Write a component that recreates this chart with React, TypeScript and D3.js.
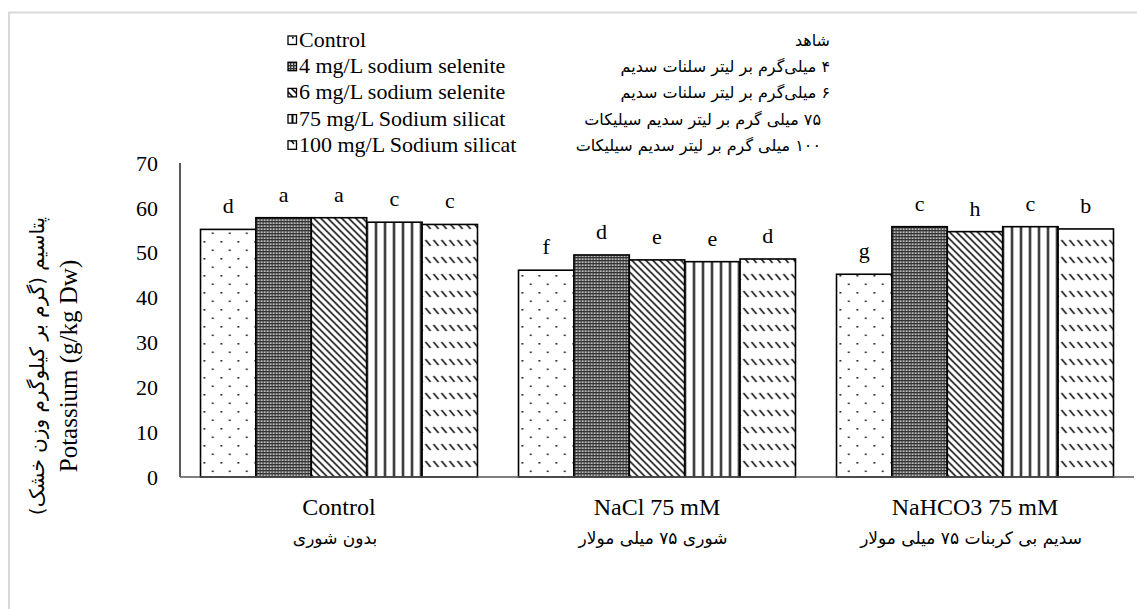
import React, { useEffect, useRef } from 'react'
import * as d3 from 'd3'

const categories = ['Control', 'NaCl 75 mM', 'NaHCO3 75 mM']
const categoriesFa = ['بدون شوری', 'شوری ۷۵ میلی مولار', 'سدیم بی کربنات ۷۵ میلی مولار']

const treatments = [
  'Control',
  '4 mg/L sodium selenite',
  '6 mg/L sodium selenite',
  '75 mg/L Sodium silicat',
  '100 mg/L Sodium silicat',
]
const treatmentsFa = [
  'شاهد',
  '۴ میلی‌گرم بر لیتر سلنات سدیم',
  '۶ میلی‌گرم بر لیتر سلنات سدیم',
  '۷۵ میلی گرم بر لیتر سدیم سیلیکات',
  '۱۰۰ میلی گرم بر لیتر سدیم سیلیکات',
]

// potassium per treatment, one value per category
const controlValues = [55.2, 46.1, 45.2]
const selenite4Values = [57.8, 49.5, 55.8]
const selenite6Values = [57.8, 48.4, 54.7]
const silicat75Values = [56.8, 48.0, 55.8]
const silicat100Values = [56.3, 48.6, 55.3]

const controlLetters = ['d', 'f', 'g']
const selenite4Letters = ['a', 'd', 'c']
const selenite6Letters = ['a', 'e', 'h']
const silicat75Letters = ['c', 'e', 'c']
const silicat100Letters = ['c', 'd', 'b']

const yTicks = [0, 10, 20, 30, 40, 50, 60, 70]

const seriesValues = [controlValues, selenite4Values, selenite6Values, silicat75Values, silicat100Values]
const seriesLetters = [controlLetters, selenite4Letters, selenite6Letters, silicat75Letters, silicat100Letters]
const patternIds = ['pDots', 'pChecker', 'pDiag', 'pVert', 'pDash']

const SERIF = '"Liberation Serif", "Times New Roman", serif'
const FA = '"DejaVu Sans", sans-serif'

export default function App() {
  const svgRef = useRef<SVGSVGElement>(null)

  useEffect(() => {
    if (!svgRef.current) return
    const svg = d3.select(svgRef.current)
    svg.selectAll('*').remove()

    const defs = svg.append('defs')

    // sparse dots
    const pd = defs.append('pattern').attr('id', 'pDots').attr('patternUnits', 'userSpaceOnUse')
      .attr('width', 17).attr('height', 17)
    pd.append('rect').attr('width', 17).attr('height', 17).attr('fill', '#fff')
    pd.append('rect').attr('x', 3).attr('y', 3).attr('width', 1.6).attr('height', 1.6).attr('fill', '#000')
    pd.append('rect').attr('x', 11.5).attr('y', 11.5).attr('width', 1.6).attr('height', 1.6).attr('fill', '#000')

    // fine checker
    const pc = defs.append('pattern').attr('id', 'pChecker').attr('patternUnits', 'userSpaceOnUse')
      .attr('width', 3).attr('height', 3)
    pc.append('rect').attr('width', 3).attr('height', 3).attr('fill', '#333')
    pc.append('rect').attr('x', 0.4).attr('y', 0.4).attr('width', 1.5).attr('height', 1.5).attr('fill', '#fff')

    // diagonal lines
    const pg = defs.append('pattern').attr('id', 'pDiag').attr('patternUnits', 'userSpaceOnUse')
      .attr('width', 7).attr('height', 7)
    pg.append('rect').attr('width', 7).attr('height', 7).attr('fill', '#fff')
    pg.append('path').attr('d', 'M-1,-1 L8,8 M-1,6 L1,8 M6,-1 L8,1')
      .attr('stroke', '#000').attr('stroke-width', 1.5)

    // vertical lines
    const pv = defs.append('pattern').attr('id', 'pVert').attr('patternUnits', 'userSpaceOnUse')
      .attr('width', 9).attr('height', 9)
    pv.append('rect').attr('width', 9).attr('height', 9).attr('fill', '#fff')
    pv.append('rect').attr('x', 3.5).attr('width', 2).attr('height', 9).attr('fill', '#000')

    // dashed diagonals in rows
    const ps = defs.append('pattern').attr('id', 'pDash').attr('patternUnits', 'userSpaceOnUse')
      .attr('width', 8).attr('height', 17)
    ps.append('rect').attr('width', 8).attr('height', 17).attr('fill', '#fff')
    ps.append('path').attr('d', 'M1,2 L6,8').attr('stroke', '#000').attr('stroke-width', 1.4)

    // outer frame
    svg.append('rect')
      .attr('x', 9).attr('y', 12.5).attr('width', 1140).attr('height', 620)
      .attr('fill', 'none').attr('stroke', '#d9d9d9').attr('stroke-width', 2)

    const x0 = d3.scaleBand<string>().domain(categories).range([180, 1134])
      .paddingInner(0.129).paddingOuter(0.0645)
    const x1 = d3.scaleBand<string>().domain(treatments).range([0, x0.bandwidth()])
    const y = d3.scaleLinear().domain([0, 70]).range([477, 163])

    // y tick labels
    svg.append('g').selectAll('text').data(yTicks).join('text')
      .attr('x', 158).attr('y', (d) => y(d)).attr('dy', '0.35em')
      .attr('text-anchor', 'end')
      .style('font-family', SERIF).style('font-size', '22px').style('fill', '#000')
      .text((d) => d)

    // bars
    const groups = svg.append('g').selectAll('g').data(categories).join('g')
      .attr('transform', (d) => `translate(${x0(d)},0)`)

    groups.each(function (cat, ci) {
      const g = d3.select(this)
      treatments.forEach((t, si) => {
        const v = seriesValues[si][ci]
        g.append('rect')
          .attr('x', x1(t)!).attr('y', y(v))
          .attr('width', x1.bandwidth()).attr('height', y(0) - y(v))
          .attr('fill', `url(#${patternIds[si]})`)
          .attr('stroke', '#000').attr('stroke-width', 1.6)
        g.append('text')
          .attr('x', x1(t)! + x1.bandwidth() / 2).attr('y', y(v) - 16)
          .attr('text-anchor', 'middle')
          .style('font-family', SERIF).style('font-size', '22px').style('fill', '#000')
          .text(seriesLetters[si][ci])
      })
    })

    // axes lines
    svg.append('line')
      .attr('x1', 180).attr('x2', 180).attr('y1', y(0)).attr('y2', y(70))
      .attr('stroke', '#000').attr('stroke-width', 1.3)
    svg.append('line')
      .attr('x1', 180).attr('x2', 1134).attr('y1', y(0)).attr('y2', y(0))
      .attr('stroke', '#555').attr('stroke-width', 1.6)

    // category labels
    svg.append('g').selectAll('text').data(categories).join('text')
      .attr('x', (d) => x0(d)! + x0.bandwidth() / 2).attr('y', 515)
      .attr('text-anchor', 'middle')
      .style('font-family', SERIF).style('font-size', '24px').style('fill', '#000')
      .text((d) => d)
    svg.append('g').selectAll('text').data(categoriesFa).join('text')
      .attr('x', (d, i) => x0(categories[i])! + x0.bandwidth() / 2 - 4).attr('y', 544)
      .attr('text-anchor', 'middle')
      .style('font-family', FA).style('font-size', '17px').style('fill', '#000')
      .style('direction', 'rtl')
      .text((d) => d)

    // y axis title
    const yt = svg.append('g').attr('transform', 'translate(0,366) rotate(-90)')
    yt.append('text').attr('x', 0).attr('y', 77).attr('text-anchor', 'middle')
      .style('font-family', SERIF).style('font-size', '25px').style('fill', '#000')
      .text('Potassium (g/kg Dw)')
    yt.append('text').attr('x', 0).attr('y', 44).attr('text-anchor', 'middle')
      .style('font-family', FA).style('font-size', '20px').style('fill', '#000')
      .style('direction', 'rtl')
      .text('پتاسیم (گرم بر کیلوگرم وزن خشک)')

    // legend
    const legend = svg.append('g')
    treatments.forEach((t, i) => {
      const base = 47 + i * 26.2
      legend.append('rect')
        .attr('x', 288).attr('y', base - 11).attr('width', 8.5).attr('height', 8.5)
        .attr('fill', `url(#${patternIds[i]})`).attr('stroke', '#000').attr('stroke-width', 1.3)
      legend.append('text')
        .attr('x', 299).attr('y', base)
        .style('font-family', SERIF).style('font-size', '22px').style('fill', '#000')
        .text(t)
      legend.append('text')
        .attr('x', i < 3 ? 830 : 821).attr('y', base - 1)
        .attr('text-anchor', 'start')
        .style('direction', 'rtl')
        .style('font-family', FA).style('font-size', '16px').style('fill', '#000')
        .text(treatmentsFa[i])
    })
  }, [])

  return (
    <svg
      ref={svgRef}
      width={1137}
      height={609}
      style={{ position: 'absolute', left: 0, top: 0, background: '#fff' }}
    />
  )
}
